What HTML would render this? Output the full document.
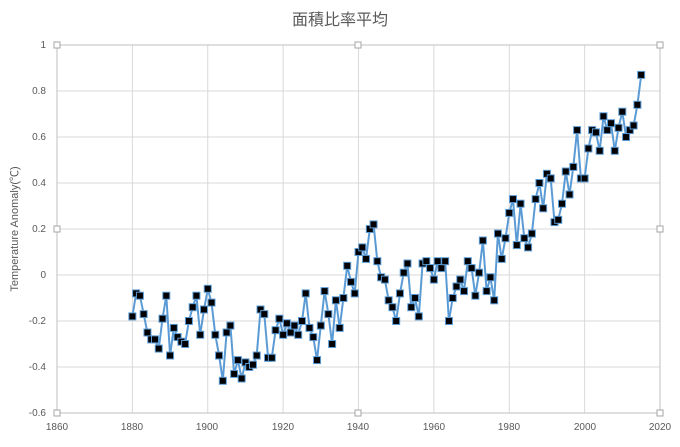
<!DOCTYPE html>
<html><head><meta charset="utf-8"><style>
body{margin:0;background:#fff;width:680px;height:442px;overflow:hidden}
svg text{font-family:"Liberation Sans","Noto Sans CJK JP",sans-serif;fill:#595959}
</style></head><body>
<svg id="s" width="680" height="442" xmlns="http://www.w3.org/2000/svg">
<text x="340" y="25" font-size="16" text-anchor="middle">面積比率平均</text>
<g font-size="10" text-anchor="end">
<text x="46" y="48">1</text><text x="46" y="94">0.8</text><text x="46" y="140">0.6</text><text x="46" y="186">0.4</text><text x="46" y="232">0.2</text><text x="46" y="278">0</text><text x="46" y="324">-0.2</text><text x="46" y="370">-0.4</text><text x="46" y="416">-0.6</text>
</g>
<g font-size="10" text-anchor="middle">
<text x="57" y="430">1860</text><text x="132" y="430">1880</text><text x="207" y="430">1900</text><text x="283" y="430">1920</text><text x="358" y="430">1940</text><text x="434" y="430">1960</text><text x="509" y="430">1980</text><text x="585" y="430">2000</text><text x="660" y="430">2020</text>
</g>
<text x="0" y="0" font-size="11" text-anchor="middle" transform="translate(18,229) rotate(-90)">Temperature Anomaly(℃)</text>
<g id="grid" stroke="#d9d9d9" stroke-width="1"></g>
<rect x="57" y="45" width="603" height="368" fill="none" stroke="#bfbfbf"/>
<path id="line" fill="none" stroke="#5b9bd5" stroke-width="2"/>
<g id="pts"></g>
<g id="h" fill="#fff" stroke="#a6a6a6"></g>
</svg>
<script>
var d=[-0.18,-0.08,-0.09,-0.17,-0.25,-0.28,-0.28,-0.32,-0.19,-0.09,-0.35,-0.23,-0.27,-0.29,-0.30,-0.20,-0.14,-0.09,-0.26,-0.15,-0.06,-0.12,-0.26,-0.35,-0.46,-0.25,-0.22,-0.43,-0.37,-0.45,-0.38,-0.40,-0.39,-0.35,-0.15,-0.17,-0.36,-0.36,-0.24,-0.19,-0.26,-0.21,-0.25,-0.22,-0.26,-0.20,-0.08,-0.23,-0.27,-0.37,-0.22,-0.07,-0.17,-0.30,-0.11,-0.23,-0.10,0.04,-0.03,-0.08,0.10,0.12,0.07,0.20,0.22,0.06,-0.01,-0.02,-0.11,-0.14,-0.20,-0.08,0.01,0.05,-0.14,-0.10,-0.18,0.05,0.06,0.03,-0.02,0.06,0.03,0.06,-0.20,-0.10,-0.05,-0.02,-0.07,0.06,0.03,-0.09,0.01,0.15,-0.07,-0.01,-0.11,0.18,0.07,0.16,0.27,0.33,0.13,0.31,0.16,0.12,0.18,0.33,0.40,0.29,0.44,0.42,0.23,0.24,0.31,0.45,0.35,0.47,0.63,0.42,0.42,0.55,0.63,0.62,0.54,0.69,0.63,0.66,0.54,0.64,0.71,0.60,0.63,0.65,0.74,0.87];
var NS="http://www.w3.org/2000/svg";
function X(y){return 57+(y-1860)*603/160}function Y(v){return 45+(1-v)*368/1.6}
function el(t,a,p){var e=document.createElementNS(NS,t);for(var k in a)e.setAttribute(k,a[k]);document.getElementById(p).appendChild(e);}
for(var i=1;i<8;i++){var x=X(1860+20*i);el('line',{x1:x,x2:x,y1:45,y2:413},'grid');}
for(var i=1;i<8;i++){var y=45+46*i;el('line',{x1:57,x2:660,y1:y,y2:y},'grid');}
var p='';d.forEach(function(v,i){p+=(i?'L':'M')+X(1880+i).toFixed(1)+' '+Y(v).toFixed(1);el('rect',{x:X(1880+i)-3.5,y:Y(v)-3.5,width:7,height:7,fill:'#000',stroke:'#5b9bd5','stroke-width':1},'pts');});
document.getElementById('line').setAttribute('d',p);
[[57,45],[358,45],[660,45],[57,229],[660,229],[57,413],[358,413],[660,413]].forEach(function(c){el('rect',{x:c[0]-3,y:c[1]-3,width:6,height:6},'h');});
</script>
</body></html>
